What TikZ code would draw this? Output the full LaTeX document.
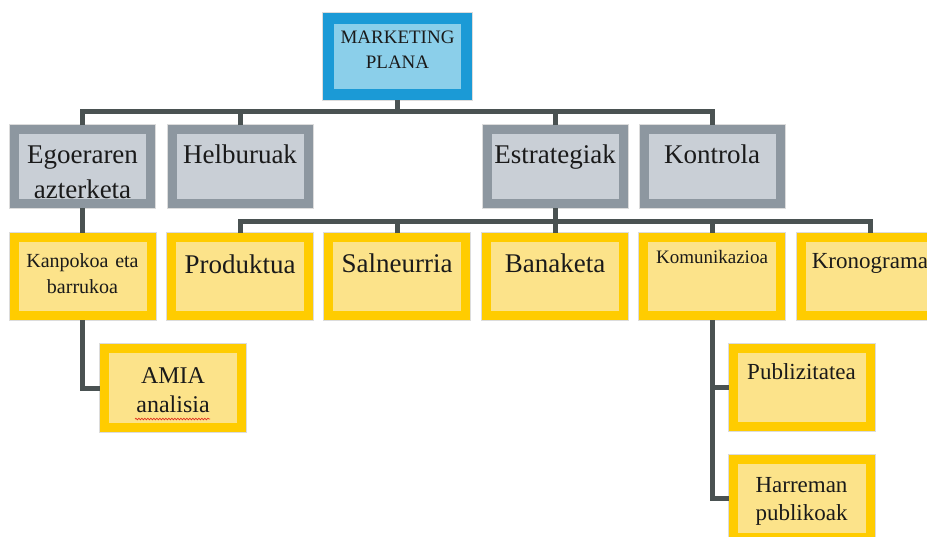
\documentclass[tikz,border=0pt]{standalone}
\usepackage{fontspec}
\setmainfont{Liberation Serif}
\usetikzlibrary{decorations.pathmorphing}
\definecolor{ink}{HTML}{1A1A1A}
\definecolor{edge}{HTML}{DCDCDC}
\definecolor{topframe}{HTML}{1B9AD6}
\definecolor{topfill}{HTML}{8BCFEA}
\definecolor{greyframe}{HTML}{8D97A0}
\definecolor{greyfill}{HTML}{C9CFD6}
\definecolor{yelframe}{HTML}{FFCC00}
\definecolor{yelfill}{HTML}{FCE38A}
\definecolor{wire}{HTML}{4A5252}
\definecolor{squiggle}{HTML}{E03020}
\tikzset{
  card/.style={rectangle,inner sep=0pt,align=center,anchor=north,text=ink},
  topcard/.style={card,draw=topframe,fill=topfill,line width=11pt,text width=138pt,preaction={draw=edge,line width=13pt}},
  headcard/.style={card,draw=greyframe,fill=greyfill,line width=9pt,text width=136pt,preaction={draw=edge,line width=11pt}},
  leafcard/.style={card,draw=yelframe,fill=yelfill,line width=9pt,text width=137pt,preaction={draw=edge,line width=11pt}},
  conn/.style={draw=wire,line width=5pt},
  fbig/.style={font=\fontsize{27}{35}\selectfont},
  fmid/.style={font=\fontsize{23}{28}\selectfont}
}
\begin{document}
\begin{tikzpicture}[x=1pt,y=-1pt]
  \path[use as bounding box,clip] (0,0) rectangle (927,536);
  % top
  \node[topcard,text height=24.5pt,text depth=51.5pt,font=\fontsize{19}{25}\selectfont] (plan) at (397.5,13) {MARKETING\\PLANA};
  % second row
  \node[headcard,text height=33.5pt,text depth=40.5pt,fbig] (egoera) at (82.5,125) {Egoeraren\\azterketa};
  \node[headcard,text height=33.5pt,text depth=40.5pt,fbig] (helburu) at (240,125) {Helburuak};
  \node[headcard,text height=33.5pt,text depth=40.5pt,fbig] (estrat) at (555,125) {Estrategiak};
  \node[headcard,text height=33.5pt,text depth=40.5pt,fbig] (kontrol) at (712,125) {Kontrola};
  % third row
  \node[leafcard,text height=29.5pt,text depth=48.5pt,font=\fontsize{20}{26}\selectfont] (kanpo) at (82.5,233) {Kanpokoa eta\\barrukoa};
  \node[leafcard,text height=35.5pt,text depth=42.5pt,fbig] (produk) at (240,233) {Produktua};
  \node[leafcard,text height=34.5pt,text depth=43.5pt,fbig] (salneu) at (397,233) {Salneurria};
  \node[leafcard,text height=34.5pt,text depth=43.5pt,fbig] (banak) at (555,233) {Banaketa};
  \node[leafcard,text height=25.5pt,text depth=52.5pt,font=\fontsize{19}{25}\selectfont] (komuni) at (712,233) {Komunikazioa};
  \node[leafcard,text height=30.5pt,text depth=47.5pt,fmid] (krono) at (870,233) {Kronograma};
  % fourth row
  \node[leafcard,text height=34.5pt,text depth=44.5pt,font=\fontsize{24}{29}\selectfont] (amia) at (173,344) {AMIA\\analisia};
  \node[leafcard,text height=30.5pt,text depth=47.5pt,fmid] (publi) at (801.5,344) {Publizitatea};
  \node[leafcard,text height=32.5pt,text depth=45.5pt,fmid] (harrem) at (801.5,455) {Harreman\\publikoak};
  \draw[squiggle,line width=0.7pt,decorate,decoration={snake,amplitude=0.8pt,segment length=3pt}] (135,419) -- (210,419);
  % connectors
  \draw[conn] (plan.south) -- ++(0,11);
  \draw[conn] (egoera.north) -- ++(0,-14) -| (kontrol.north);
  \draw[conn] (helburu.north) -- ++(0,-14);
  \draw[conn] (estrat.north) -- ++(0,-14);
  \draw[conn] (estrat.south) -- ++(0,13);
  \draw[conn] (produk.north) -- ++(0,-12) -| (krono.north);
  \draw[conn] (salneu.north) -- ++(0,-12);
  \draw[conn] (banak.north) -- ++(0,-12);
  \draw[conn] (komuni.north) -- ++(0,-12);
  \draw[conn] (egoera.south) -- (kanpo.north);
  \draw[conn] (kanpo.south) |- (amia.west);
  \draw[conn] (komuni.south) |- (publi.west);
  \draw[conn] (komuni.south) |- (harrem.west);
\end{tikzpicture}
\end{document}
